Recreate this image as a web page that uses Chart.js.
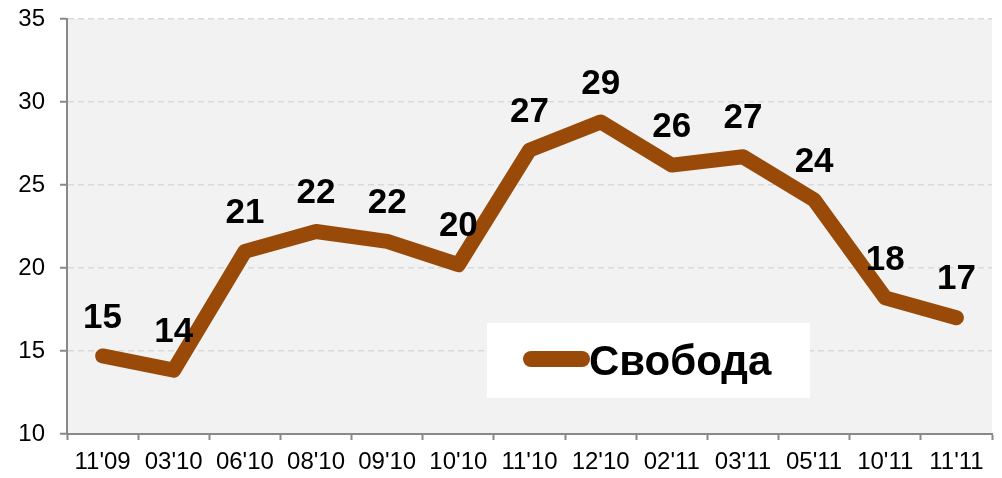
<!DOCTYPE html>
<html>
<head>
<meta charset="utf-8">
<script src="https://cdn.jsdelivr.net/npm/chart.js@4"></script>
<style>
  html, body { margin: 0; padding: 0; background: #fff; }
  #wrap { width: 1002px; height: 478px; }
</style>
</head>
<body>
<div id="wrap"><canvas id="chart" width="1002" height="478"></canvas></div>
<script>
// ── Data ──────────────────────────────────────────────────────────────────────
const periods = ["11'09", "03'10", "06'10", "08'10", "09'10", "10'10", "11'10",
                 "12'10", "02'11", "03'11", "05'11", "10'11", "11'11"];
const svoboda = [14.7, 13.85, 21.0, 22.2, 21.6, 20.2, 27.1, 28.8, 26.2, 26.7, 24.1, 18.2, 17.0];
const svobodaLabels = ['15', '14', '21', '22', '22', '20', '27', '29', '26', '27', '24', '18', '17'];
const seriesName = 'Свобода';
const yTicks = [10, 15, 20, 25, 30, 35];

const lineColor = '#994a08';
const fontFamily = 'Arial, "Liberation Sans", sans-serif';

// ── Plugins ───────────────────────────────────────────────────────────────────
const plotBg = {
  id: 'plotBg',
  beforeDraw(chart) {
    const a = chart.chartArea, ctx = chart.ctx;
    ctx.save();
    ctx.fillStyle = '#f2f2f2';
    ctx.fillRect(a.left, a.top, a.right - a.left, a.bottom - a.top);
    ctx.restore();
  }
};

const pointLabels = {
  id: 'pointLabels',
  afterDatasetsDraw(chart) {
    const ctx = chart.ctx;
    const meta = chart.getDatasetMeta(0);
    ctx.save();
    ctx.font = 'bold 35px ' + fontFamily;
    ctx.fillStyle = '#000';
    ctx.textAlign = 'center';
    ctx.textBaseline = 'middle';
    meta.data.forEach((pt, i) => {
      ctx.fillText(svobodaLabels[i], pt.x, pt.y - 38);
    });
    ctx.restore();
  }
};

const boxLegend = {
  id: 'boxLegend',
  afterDraw(chart) {
    const ctx = chart.ctx;
    ctx.save();
    ctx.fillStyle = '#fff';
    ctx.fillRect(487, 323, 323, 75);
    ctx.strokeStyle = lineColor;
    ctx.lineWidth = 16;
    ctx.lineCap = 'round';
    ctx.beginPath();
    ctx.moveTo(531, 359);
    ctx.lineTo(582, 359);
    ctx.stroke();
    ctx.fillStyle = '#000';
    ctx.font = 'bold 42px ' + fontFamily;
    ctx.textAlign = 'left';
    ctx.textBaseline = 'alphabetic';
    ctx.fillText(seriesName, 589, 375);
    ctx.restore();
  }
};

// ── Chart ─────────────────────────────────────────────────────────────────────
const chart = new Chart(document.getElementById('chart'), {
  type: 'line',
  data: {
    labels: periods,
    datasets: [{
      label: seriesName,
      data: svoboda,
      borderColor: lineColor,
      borderWidth: 15,
      borderCapStyle: 'round',
      borderJoinStyle: 'round',
      pointRadius: 0,
      tension: 0
    }]
  },
  options: {
    responsive: false,
    animation: false,
    layout: { padding: { top: 19, right: 10, left: 0, bottom: 0 } },
    plugins: { legend: { display: false }, tooltip: { enabled: false } },
    scales: {
      x: {
        offset: true,
        grid: { drawOnChartArea: false, drawTicks: true, tickLength: 6, tickColor: '#898989', tickWidth: 2, offset: true },
        border: { color: '#898989', width: 2 },
        ticks: { color: '#000', padding: 8, maxRotation: 0, autoSkip: false,
                 font: { family: fontFamily, size: 24 } },
        afterFit(s) { s.height = 44; s.paddingLeft = 0; s.paddingRight = 0; }
      },
      y: {
        min: 10, max: 35,
        afterBuildTicks(s) { s.ticks = yTicks.map(v => ({ value: v })); },
        grid: { color: '#d9d9d9', lineWidth: 1.5, tickColor: '#898989', tickLength: 7, tickWidth: 2 },
        border: { color: '#898989', width: 2, dash: [6, 4] },
        ticks: { color: '#000', padding: 15,
                 font: { family: fontFamily, size: 24 } },
        afterFit(s) { s.width = 67; s.paddingTop = 0; s.paddingBottom = 0; }
      }
    }
  },
  plugins: [plotBg, pointLabels, boxLegend]
});
</script>
</body>
</html>
